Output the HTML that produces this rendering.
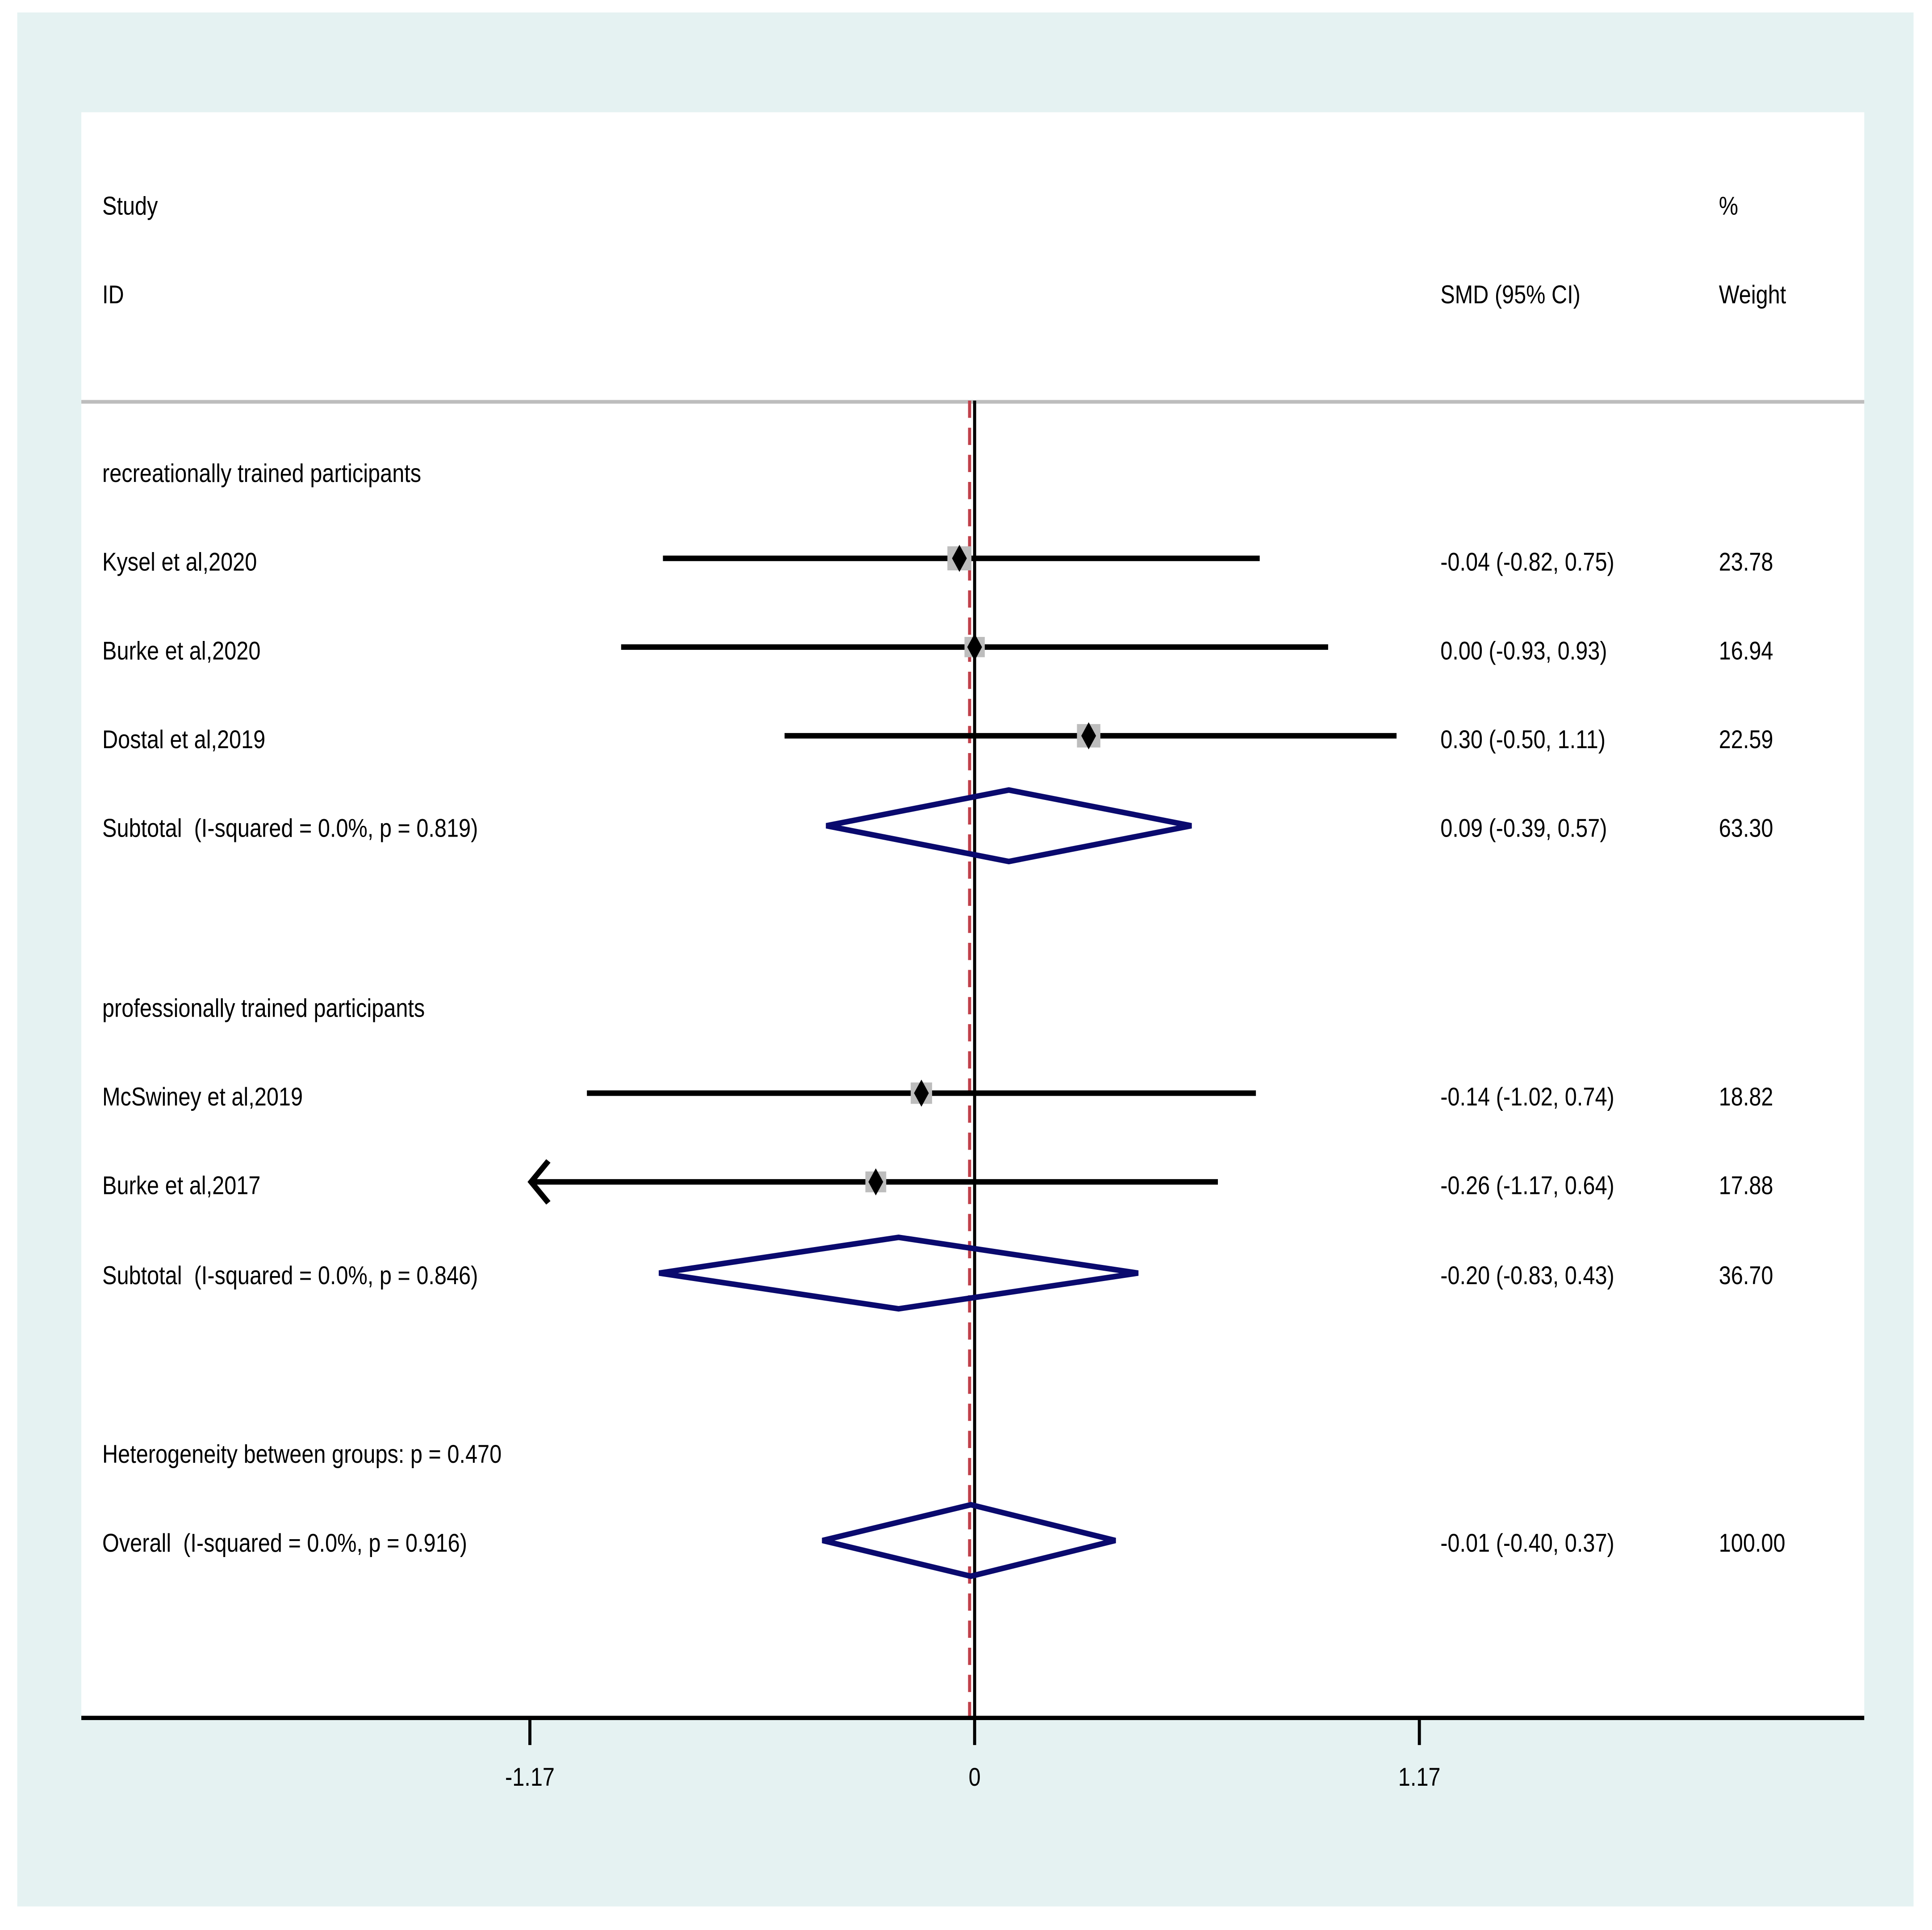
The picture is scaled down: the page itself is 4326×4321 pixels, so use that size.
<!DOCTYPE html>
<html><head><meta charset="utf-8"><style>
html,body{margin:0;padding:0;background:#fff;}
svg{display:block;}
text{font-family:"Liberation Sans",Arial,sans-serif;font-size:21px;fill:#000;white-space:pre;}
</style></head><body>
<svg id="chart" width="4326" height="4321" viewBox="0 0 1568 1566" xmlns="http://www.w3.org/2000/svg" xml:space="preserve">
<rect x="14" y="10" width="1539" height="1537" fill="#e5f2f2"/>
<rect x="66" y="91" width="1447" height="1302" fill="#ffffff"/>
<g id="g"></g>
</svg>
<script>
const rowLabels = ["recreationally trained participants","Kysel et al,2020","Burke et al,2020","Dostal et al,2019","Subtotal  (I-squared = 0.0%, p = 0.819)","professionally trained participants","McSwiney et al,2019","Burke et al,2017","Subtotal  (I-squared = 0.0%, p = 0.846)","Heterogeneity between groups: p = 0.470","Overall  (I-squared = 0.0%, p = 0.916)"];
const rowTypes = ["head","study","study","study","sub","head","study","study","sub","head","sub"];
const rowY = [384,456,528,600,672,818,890,962,1035,1180,1252];
const estimates = [null,-0.04,0.00,0.30,0.09,null,-0.14,-0.26,-0.20,null,-0.01];
const lowers = [null,-0.82,-0.93,-0.50,-0.39,null,-1.02,-1.17,-0.83,null,-0.40];
const uppers = [null,0.75,0.93,1.11,0.57,null,0.74,0.64,0.43,null,0.37];
const ciText = [null,"-0.04 (-0.82, 0.75)","0.00 (-0.93, 0.93)","0.30 (-0.50, 1.11)","0.09 (-0.39, 0.57)",null,"-0.14 (-1.02, 0.74)","-0.26 (-1.17, 0.64)","-0.20 (-0.83, 0.43)",null,"-0.01 (-0.40, 0.37)"];
const weights = [null,"23.78","16.94","22.59","63.30",null,"18.82","17.88","36.70",null,"100.00"];
const tickValues = [-1.17,0,1.17];
const tickLabels = ["-1.17","0","1.17"];
const overallEst = -0.01;

const NS="http://www.w3.org/2000/svg";
const g=document.getElementById('g');
const xs=v=>791+v*308.5;
const xmin=-1.17, xmax=1.17;
function el(tag,attrs,parent){const e=document.createElementNS(NS,tag);for(const k in attrs)e.setAttribute(k,attrs[k]);(parent||g).appendChild(e);return e;}
function txt(x,y,s,name){const t=el('text',{transform:`translate(${x},${y}) scale(0.84,1)`});t.textContent=s;


return t;}

txt(83,174,"Study","header-study");
txt(83,246,"ID","header-id");
txt(1169,246,"SMD (95% CI)","header-smd");
txt(1395,174,"%","header-percent");
txt(1395,246,"Weight","header-weight");
const hl=el('line',{x1:66,x2:1513,y1:326,y2:326,stroke:'#bdbdbd','stroke-width':3});



const zl=el('line',{x1:xs(0),x2:xs(0),y1:325,y2:1393,stroke:'#000','stroke-width':2.5});


const ol=el('line',{x1:xs(overallEst)-1,x2:xs(overallEst)-1,y1:325,y2:1393,stroke:'#c0404a','stroke-width':2.5,'stroke-dasharray':'14,8'});



rowLabels.forEach((lab,i)=>{
  const y=rowY[i];
  txt(83,y+7,lab,'row-label');
  if(ciText[i]) txt(1169,y+7,ciText[i],'ci-text');
  if(weights[i]) txt(1395,y+7,weights[i],'weight-text');
  if(rowTypes[i]==='study'){
    const lo=Math.max(lowers[i],xmin), hi=Math.min(uppers[i],xmax);
    const ci=el('line',{x1:xs(lo),x2:xs(hi),y1:y-3,y2:y-3,stroke:'#000','stroke-width':4.5});
    
    
    if(lowers[i]<=xmin){
      const a=el('polyline',{points:`${xs(xmin)+15},${y-20} ${xs(xmin)+1},${y-3} ${xs(xmin)+15},${y+14}`,fill:'none',stroke:'#000','stroke-width':4.5});
      
      
    }
    const s=4.0*Math.sqrt(parseFloat(weights[i]));
    const sq=el('rect',{x:xs(estimates[i])-s/2,y:y-3-s/2,width:s,height:s,fill:'#bdbdbd'});
    
    
    const px=xs(estimates[i]);
    const d=el('polygon',{points:`${px},${y-14} ${px+6},${y-3} ${px},${y+8} ${px-6},${y-3}`,fill:'#000'});
    
    
  } else if(rowTypes[i]==='sub'){
    const px=xs(estimates[i]),l=xs(lowers[i]),r=xs(uppers[i]);
    const dm=el('polygon',{points:`${l},${y-2} ${px},${y-31} ${r},${y-2} ${px},${y+27}`,fill:'none',stroke:'#0a0a6e','stroke-width':4.5});
    
    
  }
});

const ax=el('line',{x1:66,x2:1513,y1:1394,y2:1394,stroke:'#000','stroke-width':3.5});


tickValues.forEach((v,i)=>{
  const t=el('line',{x1:xs(v),x2:xs(v),y1:1394,y2:1416,stroke:'#000','stroke-width':2.5});
  
  
  const lb=el('text',{transform:`translate(${xs(v)},1449) scale(0.84,1)`,'text-anchor':'middle'});
  lb.textContent=tickLabels[i];
  
  
});
</script>
</body></html>
